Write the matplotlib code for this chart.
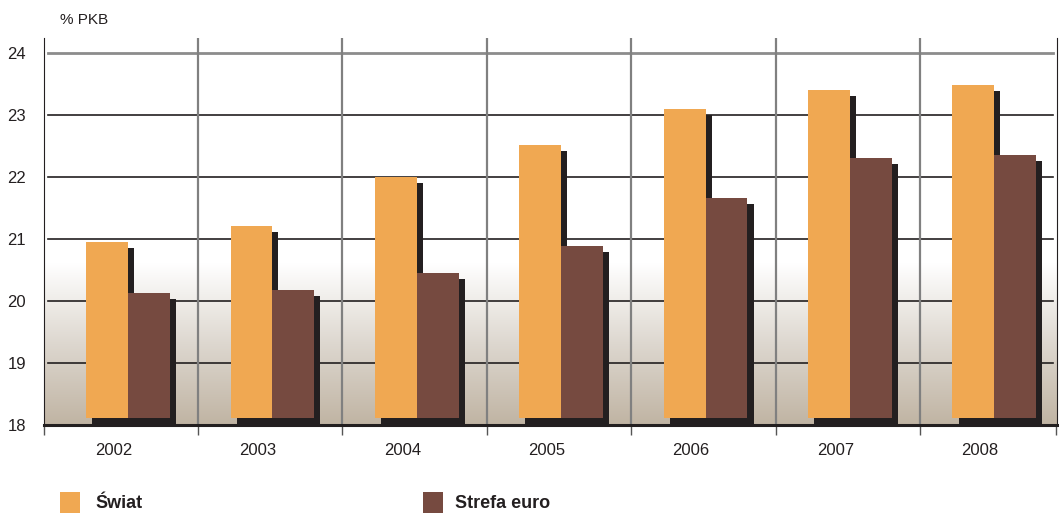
import matplotlib
matplotlib.use('Agg')
import matplotlib.pyplot as plt
from matplotlib.patches import Rectangle
from matplotlib.colors import LinearSegmentedColormap
import numpy as np

plt.rcParams['font.family'] = ['Liberation Sans', 'DejaVu Sans']

# dane
years = ['2002', '2003', '2004', '2005', '2006', '2007', '2008']
swiat = [20.95, 21.21, 22.00, 22.52, 23.10, 23.40, 23.48]
strefa_euro = [20.13, 20.18, 20.45, 20.89, 21.66, 22.31, 22.35]

c_swiat = '#f0a852'
c_euro = '#764a40'
c_shadow = '#231f20'

fig = plt.figure(figsize=(10.59, 5.15), dpi=100)
ax = fig.add_axes([44/1059, 1 - 425/515, 1013/1059, 387/515])

x = np.arange(len(years))
w = 0.29
base = 18.11
dx, dy = 0.042, 0.10

ax.set_xlim(-0.582, 6.434)
ax.set_ylim(18, 24.24)

# tło z gradientem
grad = np.linspace(0, 1, 256).reshape(-1, 1)
cmap = LinearSegmentedColormap.from_list('bg', ['#c0b4a3', '#ddd7cf', '#ffffff'])
ax.imshow(grad, cmap=cmap, origin='lower', aspect='auto',
          extent=(-0.582, 6.434, 18, 20.6), zorder=0)

# siatka
for yv in range(18, 24):
    ax.axhline(yv, xmin=0.004, xmax=0.996, color='#231f20', lw=1.2, zorder=1)
ax.axhline(24, xmin=0.004, xmax=0.996, color='#8c8c8c', lw=2, zorder=1)
for xv in x[:-1] + 0.485:
    ax.axvline(xv, color='#808080', lw=1.6, zorder=1)

# cienie
ax.bar(x - w/2 + dx, np.array(swiat) - dy - 18, width=w, bottom=18,
       color=c_shadow, zorder=2, linewidth=0)
ax.bar(x + w/2 + dx, np.array(strefa_euro) - dy - 18, width=w, bottom=18,
       color=c_shadow, zorder=2, linewidth=0)
# słupki
ax.bar(x - w/2, np.array(swiat) - base, width=w, bottom=base,
       color=c_swiat, zorder=3, linewidth=0)
ax.bar(x + w/2, np.array(strefa_euro) - base, width=w, bottom=base,
       color=c_euro, zorder=4, linewidth=0)

# osie
ax.spines['top'].set_visible(False)
ax.spines['left'].set_color('#231f20')
ax.spines['right'].set_color('#231f20')
ax.spines['bottom'].set_color('#231f20')
ax.spines['bottom'].set_linewidth(2.2)
ax.spines['bottom'].set_zorder(5)

ax.set_yticks(range(18, 25))
ax.set_yticklabels([str(v) for v in range(18, 25)], fontsize=12, color='#231f20')
ax.tick_params(axis='y', length=0, pad=13)

ax.set_xticks(list(x[:-1] + 0.485) + [-0.582, 6.43])
ax.set_xticklabels([])
ax.tick_params(axis='x', which='major', length=7, width=1, color='#555555')
ax.set_xticks(x - 0.1, minor=True)
ax.set_xticklabels(years, minor=True, fontsize=12, color='#231f20')
ax.tick_params(axis='x', which='minor', length=0, pad=13)

fig.text(60/1059, 1 - 20/515, '% PKB', fontsize=11, color='#231f20',
         ha='left', va='center')

# legenda
fig.add_artist(Rectangle((60/1059, 1 - 513/515), 20/1059, 21/515,
                         transform=fig.transFigure, color=c_swiat, lw=0))
fig.text(95/1059, 1 - 503/515, 'Świat', fontsize=13, fontweight='bold',
         color='#231f20', ha='left', va='center')
fig.add_artist(Rectangle((423/1059, 1 - 513/515), 20/1059, 21/515,
                         transform=fig.transFigure, color=c_euro, lw=0))
fig.text(455/1059, 1 - 503/515, 'Strefa euro', fontsize=13, fontweight='bold',
         color='#231f20', ha='left', va='center')

fig.savefig('out.png', dpi=100, facecolor='white')
